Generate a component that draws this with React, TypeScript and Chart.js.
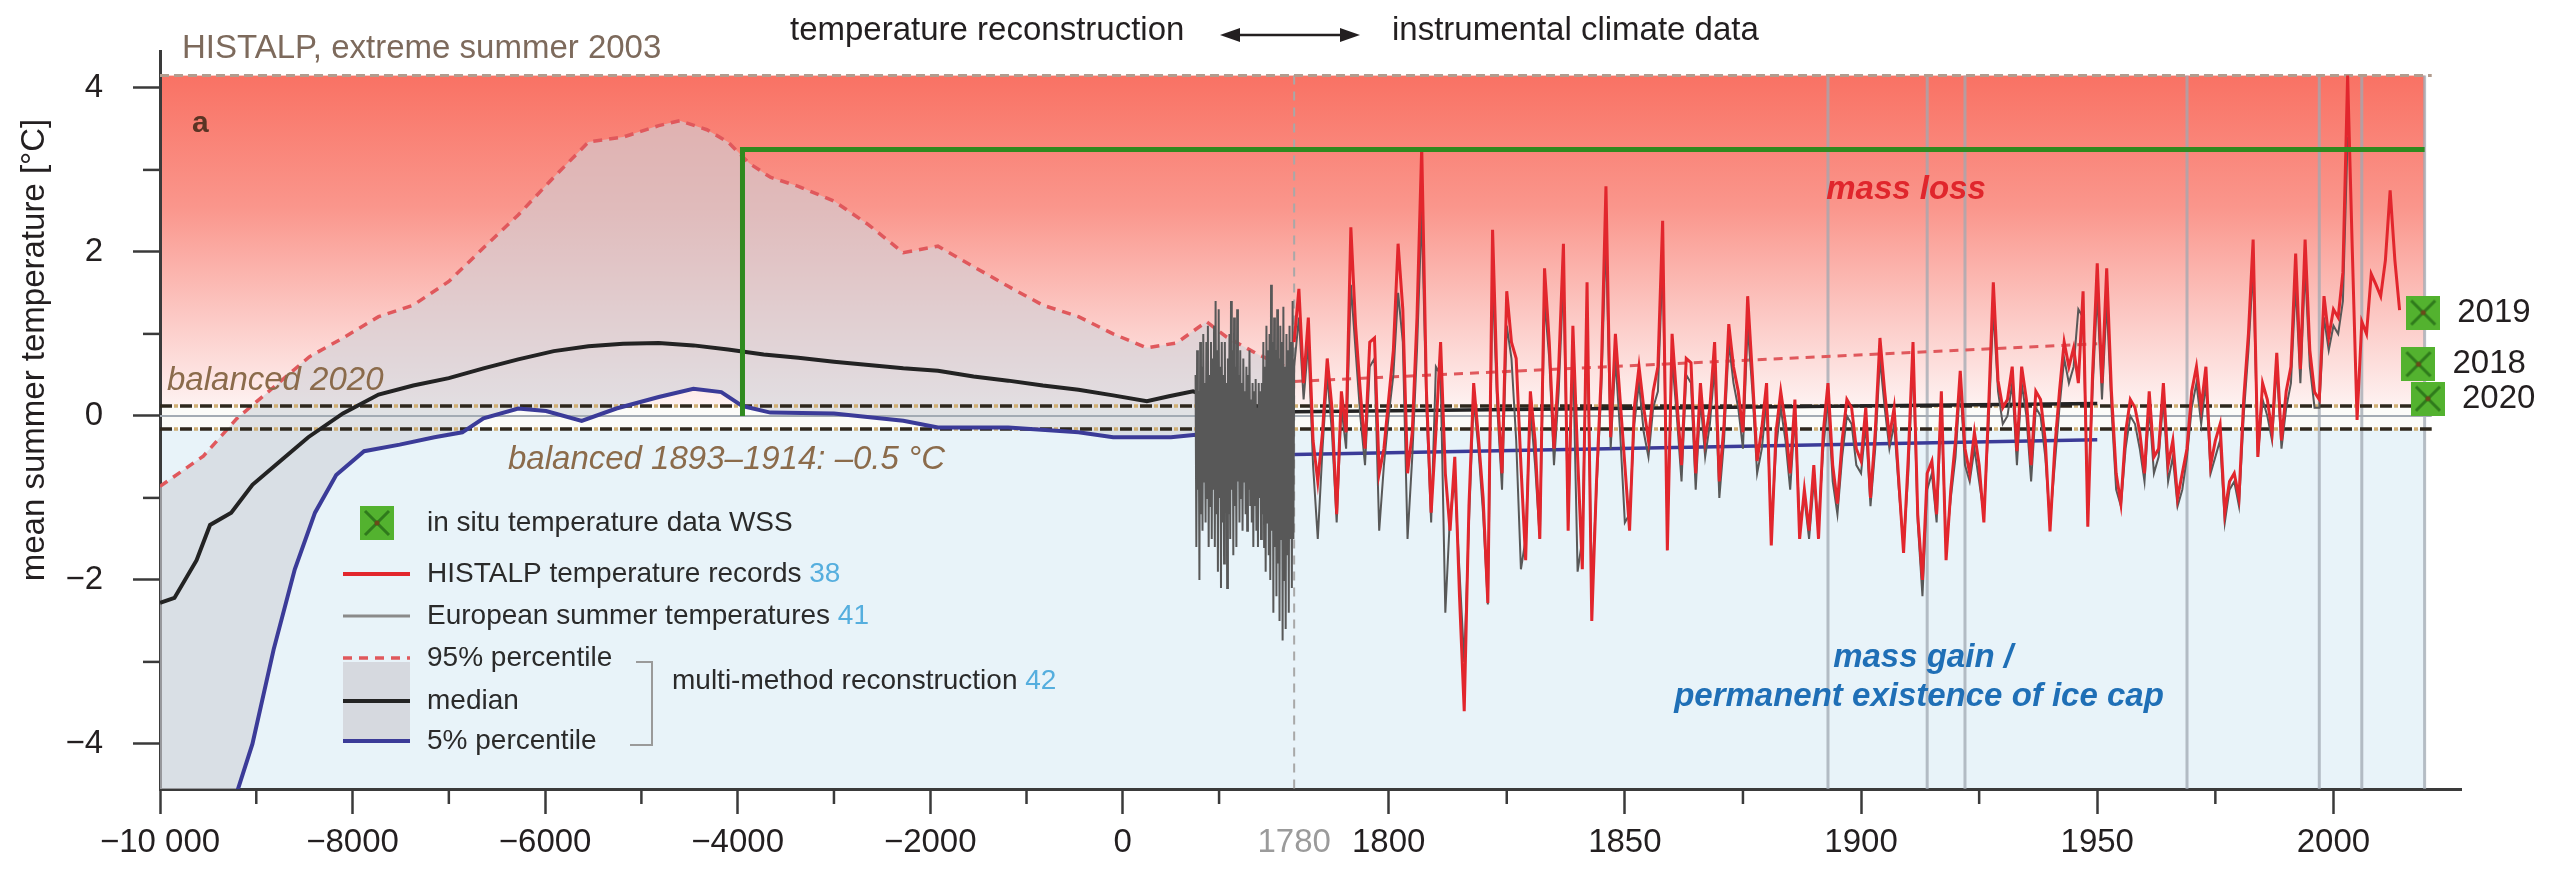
import React, { useEffect, useRef } from 'react';
import { Chart, registerables, LinearScale } from 'chart.js';

Chart.register(...registerables);

const W = 2569;
const H = 881;
const FONT = "'Liberation Sans', Arial, Helvetica, sans-serif";

// ---------------- axes ----------------
const X_MIN = -10000;
const X_BREAK = 1780;
const X_MAX = 2027;
const X_BREAK_FRACTION = 0.4929;
const X_MAJOR_TICKS = [-10000, -8000, -6000, -4000, -2000, 0, 1780, 1800, 1850, 1900, 1950, 2000];
const X_MINOR_TICKS = [-9000, -7000, -5000, -3000, -1000, 1000, 1825, 1875, 1925, 1975];
const Y_MIN = -4.55;
const Y_MAX = 4.45;
const Y_MAJOR_TICKS = [-4, -2, 0, 2, 4];
const Y_MINOR_TICKS = [-3, -1, 1, 3];

// ---------------- reference levels ----------------
const HISTALP_2003 = 4.15;
const BALANCED_2020 = 0.12;
const BALANCED_1893_1914 = -0.16;
const ZONE_END = 2019.3;
const LINE_END = 2020.8;
const EVENT_YEARS = [1893, 1914, 1922, 1969, 1997, 2006];

// ---------------- multi-method reconstruction (42) ----------------
const P95_YEARS = [-10000, -9550, -9200, -8800, -8450, -8100, -7730, -7370, -7000, -6640, -6280, -5910, -5550, -5190, -4820, -4600, -4320, -4100, -3880, -3660, -3370, -3000, -2640, -2280, -1920, -1550, -1190, -830, -460, -100, 250, 560, 870, 1080, 1420, 1780];
const P95_VALUES = [-0.86, -0.49, -0.03, 0.37, 0.72, 0.95, 1.21, 1.35, 1.64, 2.05, 2.45, 2.91, 3.34, 3.4, 3.54, 3.6, 3.49, 3.34, 3.08, 2.91, 2.8, 2.62, 2.33, 1.99, 2.07, 1.82, 1.58, 1.35, 1.21, 1.0, 0.83, 0.89, 1.15, 0.96, 0.74, 0.55];

const MEDIAN_YEARS = [-10000, -9850, -9620, -9480, -9260, -9040, -8750, -8460, -8100, -7730, -7370, -7000, -6640, -6280, -5910, -5550, -5190, -4820, -4460, -4100, -3730, -3370, -3000, -2640, -2280, -1920, -1550, -1190, -830, -460, -100, 250, 480, 730, 900, 1330, 1500, 1780];
const MEDIAN_VALUES = [-2.28, -2.22, -1.76, -1.33, -1.18, -0.84, -0.55, -0.26, 0.03, 0.26, 0.37, 0.46, 0.58, 0.69, 0.79, 0.85, 0.88, 0.89, 0.86, 0.81, 0.75, 0.71, 0.66, 0.62, 0.58, 0.55, 0.48, 0.43, 0.37, 0.32, 0.25, 0.18, 0.24, 0.3, 0.23, 0.13, 0.1, 0.05];

const P5_YEARS = [-10000, -9500, -9190, -9040, -8820, -8600, -8390, -8170, -7880, -7510, -7150, -6860, -6640, -6280, -5990, -5620, -5260, -4820, -4460, -4170, -3950, -3660, -3000, -2280, -1920, -1190, -460, -100, 500, 760, 1780];
const P5_VALUES = [-7.5, -5.6, -4.55, -4.0, -2.85, -1.87, -1.18, -0.72, -0.43, -0.35, -0.26, -0.2, -0.03, 0.09, 0.06, -0.06, 0.09, 0.23, 0.33, 0.29, 0.12, 0.04, 0.03, -0.06, -0.14, -0.14, -0.2, -0.26, -0.26, -0.23, -0.25];

const LATE_YEARS = [1780, 1950];
const P95_LATE = [0.42, 0.88];
const MEDIAN_LATE = [0.05, 0.15];
const P5_LATE = [-0.47, -0.29];

// ---------------- European summer temperatures (41) ----------------
const EU_EARLY_START = 756;
const EU_EARLY_STEP = 8;
const EU_EARLY_VALUES = [
  0.5, -1.6, 0.8, -0.9, 0.3, -2.0, 0.9, -1.2, 0.6, -1.4,
  1.0, -0.8, 0.4, -1.3, 0.9, -1.0, 1.1, -1.6, 0.5, -1.1,
  0.9, -1.5, 0.7, -0.9, 1.1, -1.6, 1.4, -1.2, 0.8, -1.9,
  1.3, -1.0, 0.6, -2.1, 0.9, -1.3, 0.5, -1.8, 0.9, -0.9,
  0.4, -2.1, 0.7, -1.2, 1.0, -1.5, 1.4, -0.9, 0.8, -1.7,
  1.2, -1.1, 0.6, -1.6, 1.3, -0.8, 0.5, -1.3, 0.8, -1.0,
  0.4, -1.4, 0.7, -0.8, 0.3, -1.2, 0.6, -1.4, 0.5, -0.9,
  0.8, -1.1, 0.2, -1.3, 0.4, -1.6, 0.3, -1.1, 0.45, -1.4,
  0.1, -1.6, 0.4, -1.0, 0.3, -1.5, 0.4, -1.2, 0.9, -1.6,
  0.6, -1.9, 1.1, -1.3, 0.8, -1.7, 1.0, -2.0, 1.6, -1.4,
  0.9, -2.4, 1.2, -1.6, 0.8, -2.2, 1.3, -1.8, 0.7, -2.5,
  1.1, -1.5, 0.9, -2.74, 1.33, -2.0, 0.6, -2.6, 1.0, -1.7,
  0.8, -2.4, 1.1, -1.5, 0.9, -2.1, 1.4, -1.5,
];
const EU_START = 1780;
const EU_VALUES = [
  0.6, 1.2, 0.2, 0.9, -0.6, -1.5, -0.4, 0.5, -0.2, -1.3,
  0.1, -0.4, 1.6, 0.8, 0.0, -0.6, 0.6, 0.7, -1.4, -0.6,
  0.0, 0.5, 1.5, 0.9, -1.5, -0.5, 0.8, 2.5, 0.1, -1.3,
  0.6, 0.5, -2.4, -1.2, -0.8, -1.9, -3.0, -1.3, 0.2, -0.4,
  -1.2, -2.3, 1.7, 0.1, -0.9, 1.1, 0.7, -0.3, -1.87, -1.5,
  0.1, -0.6, -1.5, 1.4, 0.7, -0.6, 0.3, 1.7, -1.3, 0.8,
  -1.9, -1.5, 1.2, -2.1, -0.9, 0.3, 2.2, -0.4, 0.7, -0.2,
  -1.3, -1.2, -0.1, 0.4, -0.2, -0.5, 0.1, 0.3, 1.9, -1.4,
  0.7, 0.0, -0.8, 0.5, 0.4, -0.9, 0.2, -0.5, -0.1, 0.6,
  -1.0, -0.3, 0.9, 0.4, 0.1, -0.4, 1.1, 0.3, -0.7, -0.4,
  0.2, -1.4, -0.4, 0.1, -0.3, -0.9, 0.0, -1.3, -1.0, -1.5,
  -0.8, -1.3, -0.4, 0.2, -0.8, -1.2, -0.5, 0.0, -0.1, -0.6,
  -0.7, -0.1, -1.1, -0.4, 0.7, 0.1, -0.4, -0.1, -0.9, -1.6,
  -0.7, 0.7, -1.3, -2.2, -0.9, -0.7, -1.3, 0.1, -1.6, -1.0,
  -0.5, 0.4, -0.6, -0.8, -0.4, -0.8, -1.2, -0.1, 1.3, 0.3,
  -0.1, 0.0, 0.4, -0.6, 0.4, 0.0, -0.8, 0.1, 0.0, -0.5,
  -1.3, -0.6, 0.1, 0.7, 0.4, 0.6, 1.3, 1.2, -1.1, 0.3,
  1.5, 0.2, 1.4, 0.1, -0.9, -1.1, -0.4, 0.0, -0.1, -0.4,
  -0.8, 0.1, -0.7, -0.5, 0.2, -0.8, -0.5, -1.1, -0.9, -0.5,
  0.1, 0.4, -0.1, 0.4, -0.7, -0.5, -0.3, -1.3, -0.9, -0.8,
  -1.1, 0.0, 0.8, 1.8, -0.5, 0.2, 0.0, -0.3, 0.6, -0.4,
  0.1, 0.4, 1.6, 0.4, 1.8, 0.6, 0.1, 0.1, 1.2, 0.8,
  1.1, 1.0, 1.4, 3.4,
];

// ---------------- HISTALP temperature records (38) ----------------
const HISTALP_START = 1780;
const HISTALP_VALUES = [
  0.9, 1.55, 0.4, 1.2, -0.3, -0.8, -0.2, 0.7, 0.1, -1.2,
  0.3, -0.2, 2.3, 1.1, 0.3, -0.4, 0.9, 0.95, -0.7, -0.4,
  0.2, 0.8, 2.1, 1.3, -0.7, -0.2, 1.2, 3.28, 0.3, -1.18,
  -0.2, 0.9, -0.7, -1.4, -0.5, -2.2, -3.6, -1.1, 0.4, -0.26,
  -1.0, -2.28, 2.27, 0.3, -0.7, 1.52, 0.9, 0.7, -0.6, -1.76,
  0.3, -0.3, -1.5, 1.8, 0.9, -0.4, 0.6, 2.1, -1.4, 1.1,
  -0.5, -1.87, 1.63, -2.5, -0.8, 0.5, 2.8, -0.26, 1.0, 0.2,
  -0.6, -1.4, 0.1, 0.6, 0.1, -0.3, 0.3, 0.6, 2.38, -1.64,
  1.0, 0.2, -0.6, 0.7, 0.65, -0.7, 0.4, -0.3, 0.1, 0.9,
  -0.8, -0.1, 1.12, 0.6, 0.3, -0.2, 1.46, 0.5, -0.55, -0.15,
  0.4, -1.58, -0.2, 0.3, -0.1, -0.7, 0.2, -1.5, -0.9, -1.4,
  -0.6, -1.5, -0.2, 0.4, -0.6, -1.07, -0.3, 0.2, 0.1, -0.4,
  -0.55, 0.1, -1.0, -0.2, 0.95, 0.3, -0.26, 0.1, -0.8, -1.67,
  -0.5, 0.9, -1.2, -2.0, -0.7, -0.55, -1.2, 0.3, -1.76, -0.9,
  -0.3, 0.55, -0.4, -0.7, -0.2, -0.6, -1.3, 0.1, 1.63, 0.43,
  0.1, 0.2, 0.6, -0.43, 0.6, 0.2, -0.6, 0.3, 0.2, -0.3,
  -1.41, -0.4, 0.3, 0.9, 0.6, 0.83, 0.4, 1.52, -1.35, 0.5,
  1.86, 0.4, 1.8, 0.3, -0.7, -1.07, -0.2, 0.2, 0.1, -0.2,
  -0.7, 0.3, -0.5, -0.4, 0.4, -0.6, -0.3, -1.0, -0.7, -0.4,
  0.3, 0.6, 0.1, 0.6, -0.6, -0.3, -0.1, -1.18, -0.8, -0.7,
  -1.0, 0.2, 1.0, 2.15, -0.5, 0.4, 0.2, -0.2, 0.77, -0.3,
  0.3, 0.6, 1.98, 0.57, 2.15, 0.8, 0.29, 0.2, 1.46, 0.96,
  1.3, 1.2, 1.75, 4.15, 2.0, -0.05, 1.15, 1.0, 1.73, 1.6,
  1.46, 1.9, 2.75, 1.9, 1.29,
];

// ---------------- green threshold + in situ WSS ----------------
const GREEN_YEARS = [-3950, -3950, 2019.3];
const GREEN_VALUES = [0, 3.25, 3.25];
const WSS_YEARS = [2018, 2019, 2020];
const WSS_VALUES = [0.63, 1.26, 0.21];

// ---------------- broken year scale ----------------
function yearToDecimal(v: number, min: number, max: number) {
  if (v <= X_BREAK) return ((v - min) / (X_BREAK - min)) * X_BREAK_FRACTION;
  return X_BREAK_FRACTION + ((v - X_BREAK) / (max - X_BREAK)) * (1 - X_BREAK_FRACTION);
}
function decimalToYear(d: number, min: number, max: number) {
  if (d <= X_BREAK_FRACTION) return min + (d / X_BREAK_FRACTION) * (X_BREAK - min);
  return X_BREAK + ((d - X_BREAK_FRACTION) / (1 - X_BREAK_FRACTION)) * (max - X_BREAK);
}

class BrokenYearScale extends (LinearScale as any) {
  buildTicks() {
    this.start = this.min;
    this.end = this.max;
    return X_MAJOR_TICKS.map((value) => ({ value }));
  }
  getPixelForValue(value: any) {
    if (value === null || value === undefined || isNaN(value)) return NaN;
    return this.getPixelForDecimal(yearToDecimal(value, this.min, this.max));
  }
  getValueForPixel(pixel: number) {
    return decimalToYear(this.getDecimalForPixel(pixel), this.min, this.max);
  }
}
(BrokenYearScale as any).id = 'brokenYear';
(BrokenYearScale as any).defaults = (LinearScale as any).defaults;
Chart.register(BrokenYearScale as any);

// ---------------- helpers ----------------
const xy = (xs: number[], ys: number[]) => xs.map((x, i) => ({ x, y: ys[i] }));
const level = (v: number) => [{ x: X_MIN, y: v }, { x: LINE_END, y: v }];
const euPoints = () => [
  ...EU_EARLY_VALUES.map((y, i) => ({ x: EU_EARLY_START + i * EU_EARLY_STEP, y })),
  ...EU_VALUES.map((y, i) => ({ x: EU_START + i, y })),
];
const histalpPoints = () => HISTALP_VALUES.map((y, i) => ({ x: HISTALP_START + i, y }));

function fmtYear(v: number) {
  if (v < 0) {
    const a = Math.abs(v);
    const s = a >= 10000 ? `${Math.floor(a / 1000)} ${String(a % 1000).padStart(3, '0')}` : String(a);
    return '\u2212' + s;
  }
  return String(v);
}
function fmtTemp(v: number) {
  return v < 0 ? '\u2212' + Math.abs(v) : String(v);
}

function makeWssIcon(size: number) {
  const c = document.createElement('canvas');
  c.width = size;
  c.height = size;
  const g = c.getContext('2d')!;
  g.fillStyle = '#53b22f';
  g.fillRect(0, 0, size, size);
  g.strokeStyle = '#2f7a1c';
  g.lineWidth = 3;
  g.beginPath();
  g.moveTo(5, 5);
  g.lineTo(size - 5, size - 5);
  g.moveTo(size - 5, 5);
  g.lineTo(5, size - 5);
  g.stroke();
  g.fillStyle = '#6a4a1a';
  g.beginPath();
  g.arc(size / 2, size / 2, 2.5, 0, Math.PI * 2);
  g.fill();
  return c;
}

const RED = '#e2262d';
const GREY_LINE = '#585858';
const DASH_RED = '#e0585c';
const BLUE = '#3b3b98';
const BLACK = '#232323';
const LIGHT_BLUE_TEXT = '#55aede';

function text(ctx: CanvasRenderingContext2D, t: string, x: number, y: number, font: string, color: string, align: CanvasTextAlign = 'left') {
  ctx.font = font;
  ctx.fillStyle = color;
  ctx.textAlign = align;
  ctx.textBaseline = 'middle';
  ctx.fillText(t, x, y);
  return ctx.measureText(t).width;
}

export default function App() {
  const ref = useRef<HTMLCanvasElement>(null);

  useEffect(() => {
    document.body.style.margin = '0';
    document.body.style.overflow = 'hidden';
    const canvas = ref.current!;
    const wssIcon = makeWssIcon(34);

    const backgroundPlugin = {
      id: 'zones',
      beforeDraw(chart: any) {
        const { ctx, chartArea } = chart;
        const x = chart.scales.x;
        const y = chart.scales.y;
        const xl = x.getPixelForValue(X_MIN);
        const xr = x.getPixelForValue(ZONE_END);
        const yTop = y.getPixelForValue(HISTALP_2003);
        const y20 = y.getPixelForValue(BALANCED_2020);
        const y93 = y.getPixelForValue(BALANCED_1893_1914);
        ctx.save();
        const g = ctx.createLinearGradient(0, yTop, 0, y20);
        g.addColorStop(0, 'rgb(249,114,100)');
        g.addColorStop(0.4, 'rgb(250,150,140)');
        g.addColorStop(0.75, 'rgb(252,204,200)');
        g.addColorStop(1, 'rgb(254,242,241)');
        ctx.fillStyle = g;
        ctx.fillRect(xl, yTop, xr - xl, y20 - yTop);
        ctx.fillStyle = '#fbfbf8';
        ctx.fillRect(xl, y20, xr - xl, y93 - y20);
        ctx.fillStyle = 'rgb(232,243,249)';
        ctx.fillRect(xl, y93, xr - xl, chartArea.bottom - y93);
        ctx.restore();
      },
      beforeDatasetsDraw(chart: any) {
        const { ctx, chartArea } = chart;
        const x = chart.scales.x;
        const y = chart.scales.y;
        const yTop = y.getPixelForValue(HISTALP_2003);
        ctx.save();
        ctx.strokeStyle = 'rgba(160,168,178,0.75)';
        ctx.lineWidth = 3;
        [...EVENT_YEARS, ZONE_END].forEach((yr) => {
          const px = x.getPixelForValue(yr);
          ctx.beginPath();
          ctx.moveTo(px, yTop);
          ctx.lineTo(px, chartArea.bottom);
          ctx.stroke();
        });
        const pb = x.getPixelForValue(X_BREAK);
        ctx.strokeStyle = '#a8a8a8';
        ctx.lineWidth = 2;
        ctx.setLineDash([9, 7]);
        ctx.beginPath();
        ctx.moveTo(pb, yTop);
        ctx.lineTo(pb, chartArea.bottom);
        ctx.stroke();
        ctx.restore();
      },
    };

    const annotationPlugin = {
      id: 'annotations',
      afterDraw(chart: any) {
        const { ctx, chartArea } = chart;
        const x = chart.scales.x;
        const y = chart.scales.y;
        ctx.save();
        // minor ticks
        ctx.strokeStyle = '#3a3a3a';
        ctx.lineWidth = 2.5;
        X_MINOR_TICKS.forEach((v) => {
          const px = x.getPixelForValue(v);
          ctx.beginPath();
          ctx.moveTo(px, chartArea.bottom);
          ctx.lineTo(px, chartArea.bottom + 15);
          ctx.stroke();
        });
        Y_MINOR_TICKS.forEach((v) => {
          const py = y.getPixelForValue(v);
          ctx.beginPath();
          ctx.moveTo(chartArea.left - 17, py);
          ctx.lineTo(chartArea.left, py);
          ctx.stroke();
        });

        // axis title
        ctx.save();
        ctx.translate(35, 350);
        ctx.rotate(-Math.PI / 2);
        text(ctx, 'mean summer temperature [°C]', 0, 0, `33px ${FONT}`, '#231f20', 'center');
        ctx.restore();

        // top annotations
        text(ctx, 'HISTALP, extreme summer 2003', 182, 49, `33px ${FONT}`, '#7d6a5c');
        text(ctx, 'temperature reconstruction', 790, 31, `33px ${FONT}`, '#231f20');
        text(ctx, 'instrumental climate data', 1392, 31, `33px ${FONT}`, '#231f20');
        // double arrow
        ctx.strokeStyle = '#231f20';
        ctx.fillStyle = '#231f20';
        ctx.lineWidth = 2.5;
        ctx.beginPath();
        ctx.moveTo(1232, 35);
        ctx.lineTo(1348, 35);
        ctx.stroke();
        ctx.beginPath();
        ctx.moveTo(1220, 35);
        ctx.lineTo(1240, 28);
        ctx.lineTo(1240, 42);
        ctx.closePath();
        ctx.fill();
        ctx.beginPath();
        ctx.moveTo(1360, 35);
        ctx.lineTo(1340, 28);
        ctx.lineTo(1340, 42);
        ctx.closePath();
        ctx.fill();

        text(ctx, 'a', 192, 124, `bold 30px ${FONT}`, '#5a3424');
        text(ctx, 'mass loss', 1906, 190, `bold italic 33px ${FONT}`, '#e0262c', 'center');
        text(ctx, 'mass gain /', 1923, 658, `bold italic 33px ${FONT}`, '#1f6fb6', 'center');
        text(ctx, 'permanent existence of ice cap', 1919, 697, `bold italic 33px ${FONT}`, '#1f6fb6', 'center');
        text(ctx, 'balanced 2020', 167, 381, `italic 33px ${FONT}`, '#8b6b4b');
        text(ctx, 'balanced 1893\u20131914: \u20130.5 °C', 508, 460, `italic 33px ${FONT}`, '#8b6b4b');

        // WSS year labels
        const wssMeta = chart.getDatasetMeta(chart.data.datasets.length - 1);
        wssMeta.data.forEach((pt: any, i: number) => {
          text(ctx, String(WSS_YEARS[i]), pt.x + 34, pt.y, `33px ${FONT}`, '#231f20');
        });

        // legend
        const LX0 = 343;
        const LX1 = 410;
        const TX = 427;
        const lf = `28px ${FONT}`;
        ctx.fillStyle = 'rgba(212,214,219,0.9)';
        ctx.fillRect(LX0, 662, LX1 - LX0, 78);
        ctx.drawImage(wssIcon, 377 - 17, 523 - 17);
        text(ctx, 'in situ temperature data WSS', TX, 523, lf, '#2a2a2a');
        const seg = (yy: number, color: string, w: number, dash: number[]) => {
          ctx.strokeStyle = color;
          ctx.lineWidth = w;
          ctx.setLineDash(dash);
          ctx.beginPath();
          ctx.moveTo(LX0, yy);
          ctx.lineTo(LX1, yy);
          ctx.stroke();
          ctx.setLineDash([]);
        };
        seg(574, RED, 4, []);
        let w = text(ctx, 'HISTALP temperature records ', TX, 574, lf, '#2a2a2a');
        text(ctx, '38', TX + w, 574, lf, LIGHT_BLUE_TEXT);
        seg(616, '#8a8a8a', 3, []);
        w = text(ctx, 'European summer temperatures ', TX, 616, lf, '#2a2a2a');
        text(ctx, '41', TX + w, 616, lf, LIGHT_BLUE_TEXT);
        seg(658, DASH_RED, 3.5, [9, 7]);
        text(ctx, '95% percentile', TX, 658, lf, '#2a2a2a');
        seg(701, BLACK, 4, []);
        text(ctx, 'median', TX, 701, lf, '#2a2a2a');
        seg(741, BLUE, 4, []);
        text(ctx, '5% percentile', TX, 741, lf, '#2a2a2a');
        // bracket
        ctx.strokeStyle = '#9a9a9a';
        ctx.lineWidth = 2;
        ctx.beginPath();
        ctx.moveTo(636, 662);
        ctx.lineTo(652, 662);
        ctx.lineTo(652, 745);
        ctx.lineTo(630, 745);
        ctx.stroke();
        w = text(ctx, 'multi-method reconstruction ', 672, 681, lf, '#2a2a2a');
        text(ctx, '42', 672 + w, 681, lf, LIGHT_BLUE_TEXT);
        ctx.restore();
      },
    };

    const lineDs = (data: any[], color: string, width: number, order: number, extra: any = {}) => ({
      data,
      borderColor: color,
      borderWidth: width,
      pointRadius: 0,
      tension: 0,
      fill: false,
      order,
      ...extra,
    });

    const datasets: any[] = [
      // 0: 95% percentile with the grey band down to the 5% percentile (dataset 1)
      lineDs(xy(P95_YEARS, P95_VALUES), DASH_RED, 3.5, 30, {
        borderDash: [9, 7],
        fill: 1,
        backgroundColor: 'rgba(208,210,216,0.62)',
      }),
      // 1: 5% percentile
      lineDs(xy(P5_YEARS, P5_VALUES), BLUE, 4, 11),
      // 2: median
      lineDs(xy(MEDIAN_YEARS, MEDIAN_VALUES), BLACK, 4, 11),
      // 3-5: late reconstruction
      lineDs(xy(LATE_YEARS, P95_LATE), DASH_RED, 3, 12, { borderDash: [9, 7] }),
      lineDs(xy(LATE_YEARS, MEDIAN_LATE), BLACK, 3.5, 12),
      lineDs(xy(LATE_YEARS, P5_LATE), BLUE, 3.5, 12),
      // 6: HISTALP extreme summer 2003 level
      lineDs(level(HISTALP_2003), '#b29c8e', 3, 25, { borderDash: [9, 5] }),
      // 7-10: balanced levels (tan dots + dark dashes)
      lineDs(level(BALANCED_2020), '#cfae72', 3.5, 25, { borderDash: [4, 16], borderDashOffset: 6 }),
      lineDs(level(BALANCED_2020), '#2e271c', 3.5, 24, { borderDash: [12, 8] }),
      lineDs(level(BALANCED_1893_1914), '#cfae72', 3.5, 25, { borderDash: [4, 16], borderDashOffset: 6 }),
      lineDs(level(BALANCED_1893_1914), '#2e271c', 3.5, 24, { borderDash: [12, 8] }),
      // 11: zero line
      lineDs(level(0), '#a3abb3', 2, 26),
      // 12: European summer temperatures
      lineDs(euPoints(), GREY_LINE, 2, 10),
      // 13: HISTALP
      lineDs(histalpPoints(), RED, 3, 9),
      // 14: green line
      lineDs(xy(GREEN_YEARS, GREEN_VALUES), '#2f8a1f', 5, 4),
      // 15: in situ WSS
      {
        data: xy(WSS_YEARS, WSS_VALUES),
        showLine: false,
        pointStyle: wssIcon,
        pointRadius: 12,
        order: 1,
      },
    ];

    const chart = new Chart(canvas, {
      type: 'line',
      data: { datasets },
      options: {
        responsive: false,
        animation: false,
        events: [],
        layout: { padding: { top: 51, right: 108, bottom: 0, left: 0 } },
        plugins: { legend: { display: false }, tooltip: { enabled: false } },
        scales: {
          x: {
            type: 'brokenYear' as any,
            min: X_MIN,
            max: X_MAX,
            afterFit: (s: any) => {
              s.height = 92;
            },
            grid: {
              drawOnChartArea: false,
              tickLength: 25,
              tickWidth: 2.5,
              tickColor: (c: any) => (c.tick && c.tick.value === X_BREAK ? 'rgba(0,0,0,0)' : '#3a3a3a'),
            },
            border: { display: true, color: '#3a3a3a', width: 3 },
            ticks: {
              autoSkip: false,
              maxRotation: 0,
              minRotation: 0,
              padding: 9,
              font: { family: FONT, size: 33 },
              color: (c: any) => (c.tick && c.tick.value === X_BREAK ? '#9b9b9b' : '#231f20'),
              callback: (v: any) => fmtYear(Number(v)),
            },
          } as any,
          y: {
            min: Y_MIN,
            max: Y_MAX,
            afterFit: (s: any) => {
              s.width = 160;
            },
            afterBuildTicks: (s: any) => {
              s.ticks = Y_MAJOR_TICKS.map((value) => ({ value }));
            },
            grid: { drawOnChartArea: false, tickLength: 27, tickWidth: 2.5, tickColor: '#3a3a3a' },
            border: { display: true, color: '#3a3a3a', width: 3 },
            ticks: {
              padding: 30,
              font: { family: FONT, size: 33 },
              color: '#231f20',
              callback: (v: any) => fmtTemp(Number(v)),
            },
          },
        },
      },
      plugins: [backgroundPlugin, annotationPlugin],
    } as any);

    return () => chart.destroy();
  }, []);

  return (
    <div style={{ width: W, height: H, background: '#fff' }}>
      <canvas ref={ref} width={W} height={H} style={{ display: 'block', width: W, height: H }} />
    </div>
  );
}
